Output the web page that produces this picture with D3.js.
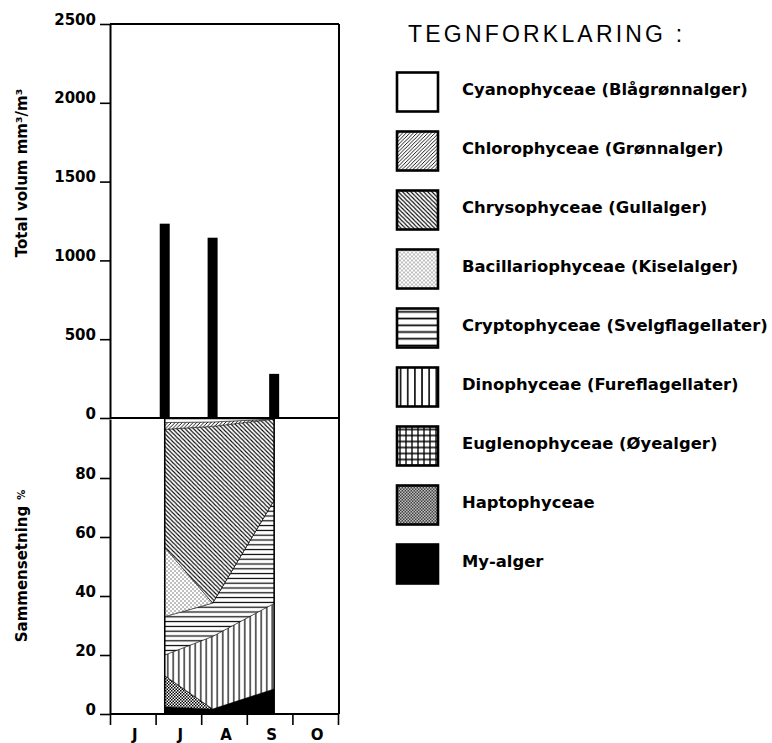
<!DOCTYPE html>
<html lang="no">
<head>
<meta charset="UTF-8">
<title>Planteplankton - totalvolum og sammensetning</title>
<script src="https://d3js.org/d3.v7.min.js"></script>
<style>
    body { margin: 0; background: #fff; }
    svg { display: block; }
    .tick text, .lab { font-family: "DejaVu Sans", sans-serif; font-weight: bold; fill: #000; }
    .axis path.domain { stroke: #000; stroke-width: 2; }
    .axis .tick line { stroke: #000; stroke-width: 1.6; }
</style>
</head>
<body>
<svg id="chart" width="772" height="743"></svg>
<script>
// sampling dates as month number (6 = 1 June, 7 = 1 July ...)
const dates = [7.2, 8.25, 9.6];
// total volume mm3/m3
const totalVolume = [1233, 1144, 280];
// composition in % per sampling date (bottom of stack first)
const myAlger = [2.5, 1.7, 8.5];
const hapto = [10.5, 0, 0];
const eugleno = [0, 0, 0];
const dino = [7, 24.6, 29];
const crypto = [13, 11.3, 35];
const bacillario = [23.5, 0, 0];
const chryso = [40, 59.9, 27.5];
const chloro = [2.3, 1.5, 0];
const cyano = [1.2, 1, 0];

const monthLabels = ["J", "J", "A", "S", "O"];
const volumeTicks = [0, 500, 1000, 1500, 2000, 2500];
const pctTicks = [0, 20, 40, 60, 80];

const groups = [
    {key: "my", name: "My-alger", values: myAlger},
    {key: "hapto", name: "Haptophyceae", values: hapto},
    {key: "eugleno", name: "Euglenophyceae (Øyealger)", values: eugleno},
    {key: "dino", name: "Dinophyceae (Fureflagellater)", values: dino},
    {key: "crypto", name: "Cryptophyceae (Svelgflagellater)", values: crypto},
    {key: "bacillario", name: "Bacillariophyceae (Kiselalger)", values: bacillario},
    {key: "chryso", name: "Chrysophyceae (Gullalger)", values: chryso},
    {key: "chloro", name: "Chlorophyceae (Grønnalger)", values: chloro},
    {key: "cyano", name: "Cyanophyceae (Blågrønnalger)", values: cyano}
];

const svg = d3.select("#chart");
const defs = svg.append("defs");

// hatch patterns, one set for the plot and one for the legend boxes
function makePatterns(suffix, scales) {
    const mk = (key, w, h) => {
        const p = defs.append("pattern")
            .attr("id", key + suffix)
            .attr("patternUnits", "userSpaceOnUse")
            .attr("width", w).attr("height", h)
            .attr("patternTransform", `scale(${scales[key] || 1})`);
        p.append("rect").attr("width", w).attr("height", h).attr("fill", "#fff");
        return p;
    };
    let p;
    mk("cyano", 4, 4);
    p = mk("chloro", 3.6, 3.6);
    p.append("path").attr("d", "M-1,1 L1,-1 M0,3.6 L3.6,0 M2.6,4.6 L4.6,2.6").attr("stroke", "#000").attr("stroke-width", 0.9);
    p = mk("chryso", 4.2, 4.2);
    p.append("path").attr("d", "M0,0 L4.2,4.2 M-1,3.2 L1,5.2 M3.2,-1 L5.2,1").attr("stroke", "#000").attr("stroke-width", 1.05);
    p = mk("bacillario", 4, 4);
    p.append("rect").attr("x", 0.5).attr("y", 0.5).attr("width", 1).attr("height", 1).attr("fill", "#000");
    p.append("rect").attr("x", 2.5).attr("y", 2.5).attr("width", 1).attr("height", 1).attr("fill", "#000");
    p = mk("crypto", 4.8, 4.8);
    p.append("line").attr("x1", 0).attr("x2", 4.8).attr("y1", 2.4).attr("y2", 2.4).attr("stroke", "#000").attr("stroke-width", 1.2);
    p = mk("dino", 5.5, 5.5);
    p.append("line").attr("y1", 0).attr("y2", 5.5).attr("x1", 2.75).attr("x2", 2.75).attr("stroke", "#000").attr("stroke-width", 1.2);
    p = mk("eugleno", 5, 5);
    p.append("path").attr("d", "M0,2.5 L5,2.5 M2.5,0 L2.5,5").attr("stroke", "#000").attr("stroke-width", 1.1);
    p = mk("hapto", 3, 3);
    p.append("rect").attr("width", 1.5).attr("height", 1.5).attr("fill", "#000");
    p.append("rect").attr("x", 1.5).attr("y", 1.5).attr("width", 1.5).attr("height", 1.5).attr("fill", "#000");
    p = mk("my", 4, 4);
    p.append("rect").attr("width", 4).attr("height", 4).attr("fill", "#000");
}
makePatterns("-plot", {});
makePatterns("-leg", {crypto: 1.4, dino: 1.3, eugleno: 1.2});

// scales
const x = d3.scaleLinear().domain([6, 11]).range([110, 338]);
const yVol = d3.scaleLinear().domain([0, 2500]).range([418, 24]);
const yPct = d3.scaleLinear().domain([0, 100]).range([714, 419]);

// stacked composition
const rows = dates.map((d, i) => {
    const r = {date: d};
    groups.forEach(g => r[g.key] = g.values[i]);
    return r;
});
const stack = d3.stack().keys(groups.map(g => g.key));
const series = stack(rows);
const area = d3.area()
    .x(d => x(d.data.date))
    .y0(d => yPct(d[0]))
    .y1(d => yPct(d[1]));

svg.append("g").selectAll("path")
    .data(series)
    .enter().append("path")
    .attr("d", area)
    .attr("fill", d => `url(#${d.key}-plot)`)
    .attr("stroke", "#000")
    .attr("stroke-width", 0.5);

// edges of the composition block
svg.append("g").selectAll("line")
    .data([dates[0], dates[dates.length - 1]])
    .enter().append("line")
    .attr("x1", d => x(d)).attr("x2", d => x(d))
    .attr("y1", yPct(0)).attr("y2", yPct(100))
    .attr("stroke", "#000").attr("stroke-width", 1.5);

// total volume bars
svg.append("g").selectAll("rect")
    .data(dates)
    .enter().append("rect")
    .attr("x", d => x(d) - 5)
    .attr("width", 10)
    .attr("y", (d, i) => yVol(totalVolume[i]))
    .attr("height", (d, i) => yVol(0) - yVol(totalVolume[i]))
    .attr("fill", "#000");

// frame
const frame = svg.append("g").attr("stroke", "#000").attr("stroke-width", 2).attr("fill", "none");
frame.append("line").attr("x1", x(6)).attr("x2", x(11) + 1).attr("y1", yVol(2500)).attr("y2", yVol(2500));
frame.append("line").attr("x1", x(11) + 1).attr("x2", x(11) + 1).attr("y1", yVol(2500)).attr("y2", yPct(0));
frame.append("line").attr("x1", x(6)).attr("x2", x(11) + 1).attr("y1", yVol(0)).attr("y2", yVol(0));

// axes
const gVol = svg.append("g").attr("class", "axis")
    .attr("transform", `translate(${x(6)},0)`)
    .call(d3.axisLeft(yVol).tickValues(volumeTicks).tickFormat(d3.format("d")).tickSize(10).tickSizeOuter(0));
const gPct = svg.append("g").attr("class", "axis")
    .attr("transform", `translate(${x(6)},0)`)
    .call(d3.axisLeft(yPct).tickValues(pctTicks).tickFormat(d3.format("d")).tickSize(10).tickSizeOuter(0));
[gVol, gPct].forEach(g => g.selectAll(".tick text")
    .attr("x", -14).attr("dy", "0").attr("font-size", 15));

const gX = svg.append("g").attr("class", "axis")
    .attr("transform", `translate(0,${yPct(0)})`)
    .call(d3.axisBottom(x).tickValues(d3.range(6, 12)).tickSize(11).tickSizeOuter(0).tickFormat(""));
gX.select(".domain").attr("d", `M${x(6)},0H${x(11)}`);

svg.append("g").selectAll("text")
    .data(monthLabels)
    .enter().append("text")
    .attr("class", "lab")
    .attr("x", (d, i) => x(6 + i + 0.5) + 2)
    .attr("y", 740)
    .attr("text-anchor", "middle")
    .attr("font-size", 15)
    .text(d => d);

// axis titles
svg.append("text").attr("class", "lab")
    .attr("transform", "translate(27,173) rotate(-90)")
    .attr("text-anchor", "middle")
    .attr("font-size", 15)
    .text("Total volum mm³/m³");
const t2 = svg.append("text").attr("class", "lab")
    .attr("transform", "translate(27,566) rotate(-90)")
    .attr("text-anchor", "middle")
    .attr("font-size", 15);
t2.append("tspan").text("Sammensetning");
t2.append("tspan").attr("dx", 6).attr("font-size", 10).attr("dy", -2).text("%");

// legend
svg.append("text")
    .attr("x", 408).attr("y", 42)
    .attr("font-family", "'Liberation Sans', Arial, sans-serif")
    .attr("font-size", 23)
    .attr("letter-spacing", 3.2)
    .text("TEGNFORKLARING :");

const legendItems = groups.slice().reverse();
const ly = d3.scalePoint().domain(legendItems.map(g => g.key)).range([72.5, 72.5 + 8 * 59]);
const leg = svg.append("g").selectAll("g")
    .data(legendItems)
    .enter().append("g")
    .attr("transform", d => `translate(397,${ly(d.key)})`);
leg.append("rect")
    .attr("width", 41).attr("height", 39)
    .attr("fill", d => `url(#${d.key}-leg)`)
    .attr("stroke", "#000").attr("stroke-width", 2.6);
leg.append("text")
    .attr("class", "lab")
    .attr("x", 65).attr("y", 22)
    .attr("font-size", 16.4)
    .text(d => d.name);
</script>
</body>
</html>
